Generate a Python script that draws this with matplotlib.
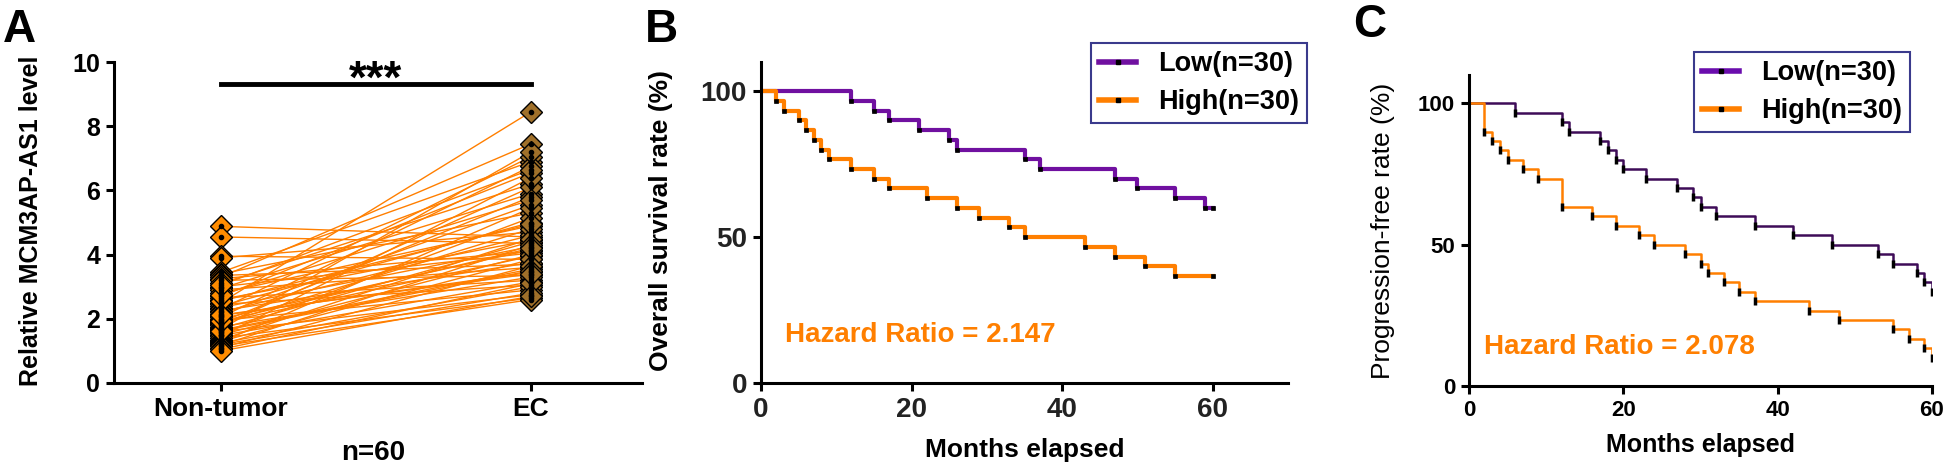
import numpy as np
import matplotlib
matplotlib.use('Agg')
import matplotlib.pyplot as plt
from matplotlib.lines import Line2D

plt.rcParams['font.family'] = ['Liberation Sans', 'DejaVu Sans']
plt.rcParams['font.weight'] = 'bold'

# Panel A: paired MCM3AP-AS1 levels (n=60)
groups = ['Non-tumor', 'EC']
non_tumor = [4.88, 4.55, 3.95, 3.9, 3.45, 3.4, 3.35, 3.3, 3.25, 3.2,
             3.1, 3.0, 2.95, 2.9, 2.8, 2.7, 2.65, 2.6, 2.5, 2.45,
             2.4, 2.35, 2.3, 2.25, 2.2, 2.15, 2.1, 2.05, 2.0, 1.95,
             1.9, 1.88, 1.85, 1.8, 1.75, 1.7, 1.68, 1.65, 1.6, 1.55,
             1.5, 1.48, 1.45, 1.4, 1.35, 1.3, 1.28, 1.25, 1.2, 1.18,
             1.15, 1.1, 1.05, 1.0, 2.55, 2.75, 3.05, 1.62, 1.92, 2.12]
tumor = [4.55, 4.35, 3.85, 4.7, 6.9, 5.3, 3.7, 7.45, 4.1, 3.35,
         6.2, 4.05, 5.9, 3.6, 4.9, 6.55, 3.2, 4.45, 8.45, 3.05,
         5.0, 4.25, 7.05, 3.75, 4.6, 5.55, 3.45, 6.75, 4.15, 2.9,
         5.8, 3.95, 4.8, 6.1, 3.3, 4.4, 7.2, 3.55, 2.75, 5.15,
         4.0, 3.15, 6.4, 2.65, 4.5, 3.85, 5.45, 3.0, 2.8, 4.3,
         2.6, 3.65, 3.1, 2.7, 4.95, 5.7, 6.65, 3.5, 4.2, 3.4]

# Panel B: overall survival (%)
b_low_t = [0, 12, 15, 17, 21, 25, 26, 35, 37, 47, 50, 55, 59, 60]
b_low_s = [100, 96.7, 93.3, 90, 86.7, 83.3, 80, 76.7, 73.3, 70, 66.7, 63.3, 60, 60]
b_high_t = [0, 2, 3, 5, 6, 7, 8, 9, 12, 15, 17, 22, 26, 29, 33, 35, 43, 47, 51, 55, 60]
b_high_s = [100, 96.7, 93.3, 90, 86.7, 83.3, 80, 76.7, 73.3, 70, 66.7, 63.3, 60,
            56.7, 53.3, 50, 46.7, 43.3, 40, 36.7, 36.7]

# Panel C: progression-free rate (%)
c_low_t = [0, 6, 12, 13, 17, 18, 19, 20, 23, 27, 29, 30, 32, 37, 42, 47, 53, 55, 58, 59, 60]
c_low_s = [100, 96.7, 93.3, 90, 86.7, 83.3, 80, 76.7, 73.3, 70, 66.7, 63.3, 60,
           56.7, 53.3, 50, 46.7, 43.3, 40, 36.7, 33.3]
c_high_t = [0, 2, 3, 4, 5, 7, 9, 12, 16, 19, 22, 24, 28, 30, 31, 33, 35, 37, 44, 48, 55, 57, 59, 60]
c_high_s = [100, 90, 86.7, 83.3, 80, 76.7, 73.3, 63.3, 60, 56.7, 53.3, 50, 46.7,
            43.3, 40, 36.7, 33.3, 30, 26.7, 23.3, 20, 16.7, 13.3, 10]

legend_labels = ['Low(n=30)', 'High(n=30)']

ORANGE = '#ff7f00'
PURPLE = '#7010a0'
DARKPURPLE = '#3e0c58'

W, H = 1946, 467
fig = plt.figure(figsize=(W / 100, H / 100), dpi=100)


def px_axes(l, t, r, b):
    return fig.add_axes([l / W, 1 - b / H, (r - l) / W, (b - t) / H])


def style(ax, lw=2.2, size=18, color='black'):
    for s in ['top', 'right']:
        ax.spines[s].set_visible(False)
    for s in ['left', 'bottom']:
        ax.spines[s].set_linewidth(lw)
    ax.tick_params(width=lw, length=6, labelsize=size, labelcolor=color, pad=4)


# ---- A ----
axA = px_axes(114, 62, 642, 383)
style(axA, size=18)
for a, b in zip(non_tumor, tumor):
    axA.plot([0, 1], [a, b], color=ORANGE, lw=1.0, zorder=1)
axA.plot(np.zeros(len(non_tumor)), non_tumor, 'D', ms=11, mfc='#ff8c00', mec='black', mew=1.0, zorder=3)
axA.plot(np.ones(len(tumor)), tumor, 'D', ms=11, mfc='#a0702a', mec='black', mew=1.0, zorder=3)
axA.plot(np.zeros(len(non_tumor)), non_tumor, 'o', ms=3, color='black', zorder=4)
axA.plot(np.ones(len(tumor)), tumor, 'o', ms=3, color='black', zorder=4)
axA.set_xlim(-0.345, 1.358)
axA.set_ylim(0, 10)
axA.set_yticks([0, 2, 4, 6, 8, 10])
axA.set_xticks([0, 1])
axA.set_xticklabels(groups, fontsize=19)
axA.plot([0, 1], [9.31, 9.31], color='black', lw=3.5, clip_on=False)
axA.text(0.5, 9.05, '***', ha='center', va='baseline', fontsize=33, fontweight='bold')
axA.set_ylabel('Relative MCM3AP-AS1 level', fontsize=18, fontweight='bold')
axA.yaxis.set_label_coords(-0.134, 0.505)
axA.set_xlabel('n=60', fontsize=20, fontweight='bold')
axA.xaxis.label.set_va('center')
axA.xaxis.set_label_coords(0.49, -0.218)


def km(ax, t, s, color, lw, marker, ms, mew):
    ax.step(t, s, where='post', color=color, lw=lw, zorder=2)
    ax.plot(t[1:], s[1:], linestyle='none', marker=marker, ms=ms, color='black', mew=mew, zorder=3)


def legend(ax, colors, anchor):
    handles = [Line2D([], [], color=c, lw=4, marker='s', ms=3.5, mfc='black', mec='black') for c in colors]
    leg = ax.legend(handles, legend_labels, loc='upper left', bbox_to_anchor=anchor,
                    bbox_transform=fig.transFigure, fontsize=19.5, frameon=True, fancybox=False,
                    edgecolor='#3a3a8c', borderaxespad=0, borderpad=0.3, handlelength=1.37,
                    handletextpad=0.8, labelspacing=0.45)
    leg.get_frame().set_linewidth(1.5)
    leg.get_frame().set_alpha(1)
    for txt in leg.get_texts():
        txt.set_fontweight('bold')


# ---- B ----
axB = px_axes(761, 62, 1288, 383)
style(axB, size=20, color='#222222')
km(axB, b_low_t, b_low_s, PURPLE, 3.0, 's', 3.5, 0.5)
km(axB, b_high_t, b_high_s, ORANGE, 3.0, 's', 3.5, 0.5)
axB.set_xlim(0, 70)
axB.set_ylim(0, 110)
axB.set_xticks([0, 20, 40, 60])
axB.set_yticks([0, 50, 100])
axB.text(3.2, 16.5, 'Hazard Ratio = 2.147', color=ORANGE, fontsize=20, fontweight='bold', va='center')
axB.set_ylabel('Overall survival rate (%)', fontsize=19, fontweight='bold')
axB.yaxis.set_label_coords(-0.167, 0.505)
axB.set_xlabel('Months elapsed', fontsize=19, fontweight='bold')
axB.xaxis.label.set_va('center')
axB.xaxis.set_label_coords(0.5, -0.209)
legend(axB, [PURPLE, ORANGE], (1091 / W, 1 - 43 / H))

# ---- C ----
axC = px_axes(1469, 75, 1932, 386)
style(axC, size=16)
km(axC, c_low_t, c_low_s, DARKPURPLE, 1.8, '|', 6, 2.5)
km(axC, c_high_t, c_high_s, ORANGE, 1.8, '|', 6, 2.5)
axC.set_xlim(0, 60)
axC.set_ylim(0, 110)
axC.set_xticks([0, 20, 40, 60])
axC.set_yticks([0, 50, 100])
axC.text(2, 13.8, 'Hazard Ratio = 2.078', color=ORANGE, fontsize=20, fontweight='bold', va='center')
axC.set_ylabel('Progression-free rate (%)', fontsize=19, fontweight='normal')
axC.yaxis.set_label_coords(-0.16, 0.5)
axC.set_xlabel('Months elapsed', fontsize=18, fontweight='bold')
axC.xaxis.label.set_va('center')
axC.xaxis.set_label_coords(0.5, -0.19)
legend(axC, ['#6a0dad', ORANGE], (1694 / W, 1 - 52 / H))

# panel letters
fig.text(3 / W, 1 - 8 / H, 'A', fontsize=33, fontweight='bold', va='top')
fig.text(645 / W, 1 - 8 / H, 'B', fontsize=33, fontweight='bold', va='top')
fig.text(1353 / W, 1 - 3 / H, 'C', fontsize=33, fontweight='bold', va='top')

fig.savefig('out.png', dpi=100)
